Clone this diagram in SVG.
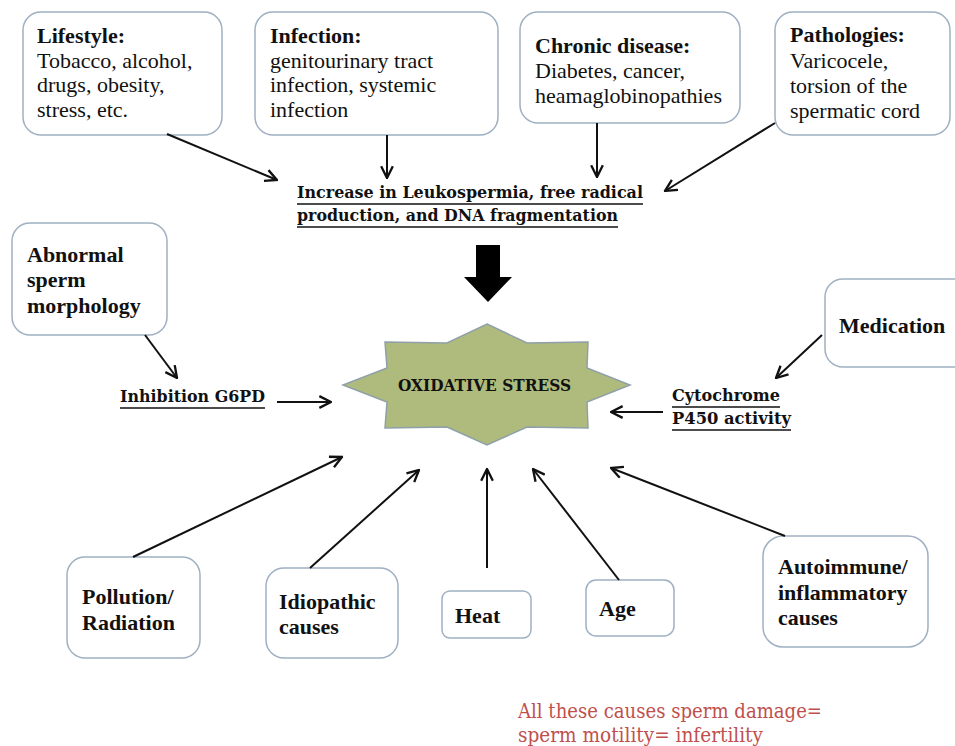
<svg xmlns="http://www.w3.org/2000/svg" width="955" height="746" viewBox="0 0 955 746">
<style>
.box{fill:#fff;stroke:#9fb0c2;stroke-width:1.5}
.t{font-family:"Liberation Serif","Times New Roman",serif;font-size:22px;fill:#111}
.b{font-weight:bold}
.u{font-family:"DejaVu Serif",serif;font-weight:bold;font-size:17px;fill:#111}
.ul{stroke:#111;stroke-width:1.3}
.c line{stroke:#111;stroke-width:2;marker-end:url(#ah)}
.red{font-family:"DejaVu Serif",serif;font-size:21px;fill:#c0504d}
</style>
<defs>
<marker id="ah" viewBox="0 0 12 12" refX="11" refY="6" markerWidth="7" markerHeight="7" orient="auto" markerUnits="strokeWidth">
<polyline points="1,1 11,6 1,11" fill="none" stroke="#111" stroke-width="2"/>
</marker>
</defs>
<rect width="955" height="746" fill="#fff"/>

<g id="lifestyle"><rect class="box" x="23" y="12" width="199" height="123" rx="18"/>
<text class="t"><tspan class="b" x="37" y="43">Lifestyle:</tspan><tspan x="37" y="68">Tobacco, alcohol,</tspan><tspan x="37" y="92">drugs, obesity,</tspan><tspan x="37" y="117">stress, etc.</tspan></text></g>

<g id="infection"><rect class="box" x="255" y="12" width="243" height="123" rx="18"/>
<text class="t"><tspan class="b" x="270" y="43">Infection:</tspan><tspan x="270" y="68">genitourinary tract</tspan><tspan x="270" y="92">infection, systemic</tspan><tspan x="270" y="117">infection</tspan></text></g>

<g id="chronic"><rect class="box" x="520" y="12" width="220" height="111" rx="18"/>
<text class="t"><tspan class="b" x="535" y="53">Chronic disease:</tspan><tspan x="535" y="78">Diabetes, cancer,</tspan><tspan x="535" y="103">heamaglobinopathies</tspan></text></g>

<g id="pathologies"><rect class="box" x="775" y="12" width="175" height="123" rx="18"/>
<text class="t"><tspan class="b" x="790" y="42">Pathologies:</tspan><tspan x="790" y="68">Varicocele,</tspan><tspan x="790" y="93">torsion of the</tspan><tspan x="790" y="118">spermatic cord</tspan></text></g>

<g id="increase">
<text class="u"><tspan x="297" y="198" textLength="346" lengthAdjust="spacingAndGlyphs">Increase in Leukospermia, free radical</tspan><tspan x="297" y="221" textLength="321" lengthAdjust="spacingAndGlyphs">production, and DNA fragmentation</tspan></text>
<line class="ul" x1="297" y1="204" x2="643" y2="204"/><line class="ul" x1="297" y1="227" x2="618" y2="227"/></g>

<g id="abnormal"><rect class="box" x="12" y="223" width="155" height="112" rx="18"/>
<text class="t b"><tspan x="27" y="262">Abnormal</tspan><tspan x="27" y="287">sperm</tspan><tspan x="27" y="313">morphology</tspan></text></g>

<g id="g6pd"><text class="u" x="120" y="402" textLength="145" lengthAdjust="spacingAndGlyphs">Inhibition G6PD</text>
<line class="ul" x1="120" y1="408" x2="265" y2="408"/></g>

<g id="oxidative">
<polygon points="487,324 527,343 588,342 587,368 630,385 587,402 588,428 527,427 487,445 447,427 385,428 387,402 343,385 387,368 385,342 447,343" fill="#afbb7c" stroke="#8fa0a8" stroke-width="1.5"/>
<text class="u" x="398" y="391" font-size="18" textLength="173" lengthAdjust="spacingAndGlyphs">OXIDATIVE STRESS</text></g>

<g id="bigarrow"><polygon points="476,245 500,245 500,277 512,277 488,302 464,277 476,277" fill="#000"/></g>

<g id="medication"><rect class="box" x="825" y="279" width="150" height="88" rx="18"/>
<text class="t b" x="839" y="333">Medication</text></g>

<g id="cytochrome"><text class="u"><tspan x="672" y="401" textLength="108" lengthAdjust="spacingAndGlyphs">Cytochrome</tspan><tspan x="672" y="424" textLength="119" lengthAdjust="spacingAndGlyphs">P450 activity</tspan></text>
<line class="ul" x1="672" y1="407" x2="780" y2="407"/><line class="ul" x1="672" y1="430" x2="791" y2="430"/></g>

<g id="pollution"><rect class="box" x="67" y="557" width="133" height="101" rx="18"/>
<text class="t b"><tspan x="82" y="604">Pollution/</tspan><tspan x="82" y="630">Radiation</tspan></text></g>

<g id="idiopathic"><rect class="box" x="266" y="568" width="132" height="90" rx="18"/>
<text class="t b"><tspan x="279" y="609">Idiopathic</tspan><tspan x="279" y="634">causes</tspan></text></g>

<g id="heat"><rect class="box" x="442" y="591" width="89" height="47" rx="8"/>
<text class="t b" x="455" y="623">Heat</text></g>

<g id="age"><rect class="box" x="586" y="580" width="88" height="56" rx="10"/>
<text class="t b" x="599" y="616">Age</text></g>

<g id="autoimmune"><rect class="box" x="763" y="536" width="165" height="111" rx="20"/>
<text class="t b"><tspan x="778" y="574">Autoimmune/</tspan><tspan x="778" y="600">inflammatory</tspan><tspan x="778" y="625">causes</tspan></text></g>

<g id="note"><text class="red"><tspan x="518" y="718" textLength="304" lengthAdjust="spacingAndGlyphs">All these causes sperm damage=</tspan><tspan x="518" y="742" textLength="245" lengthAdjust="spacingAndGlyphs">sperm motility= infertility</tspan></text></g>

<g id="connectors" class="c">
<line x1="167" y1="134" x2="277" y2="180"/>
<line x1="387" y1="135" x2="387" y2="178"/>
<line x1="597" y1="123" x2="597" y2="177"/>
<line x1="775" y1="123" x2="665" y2="191"/>
<line x1="145" y1="335" x2="177" y2="378"/>
<line x1="277" y1="402" x2="331" y2="402"/>
<line x1="822" y1="335" x2="776" y2="378"/>
<line x1="663" y1="412" x2="611" y2="412"/>
<line x1="133" y1="557" x2="342" y2="457"/>
<line x1="310" y1="568" x2="419" y2="470"/>
<line x1="487" y1="568" x2="487" y2="469"/>
<line x1="619" y1="580" x2="533" y2="469"/>
<line x1="785" y1="536" x2="611" y2="468"/>
</g>
</svg>
